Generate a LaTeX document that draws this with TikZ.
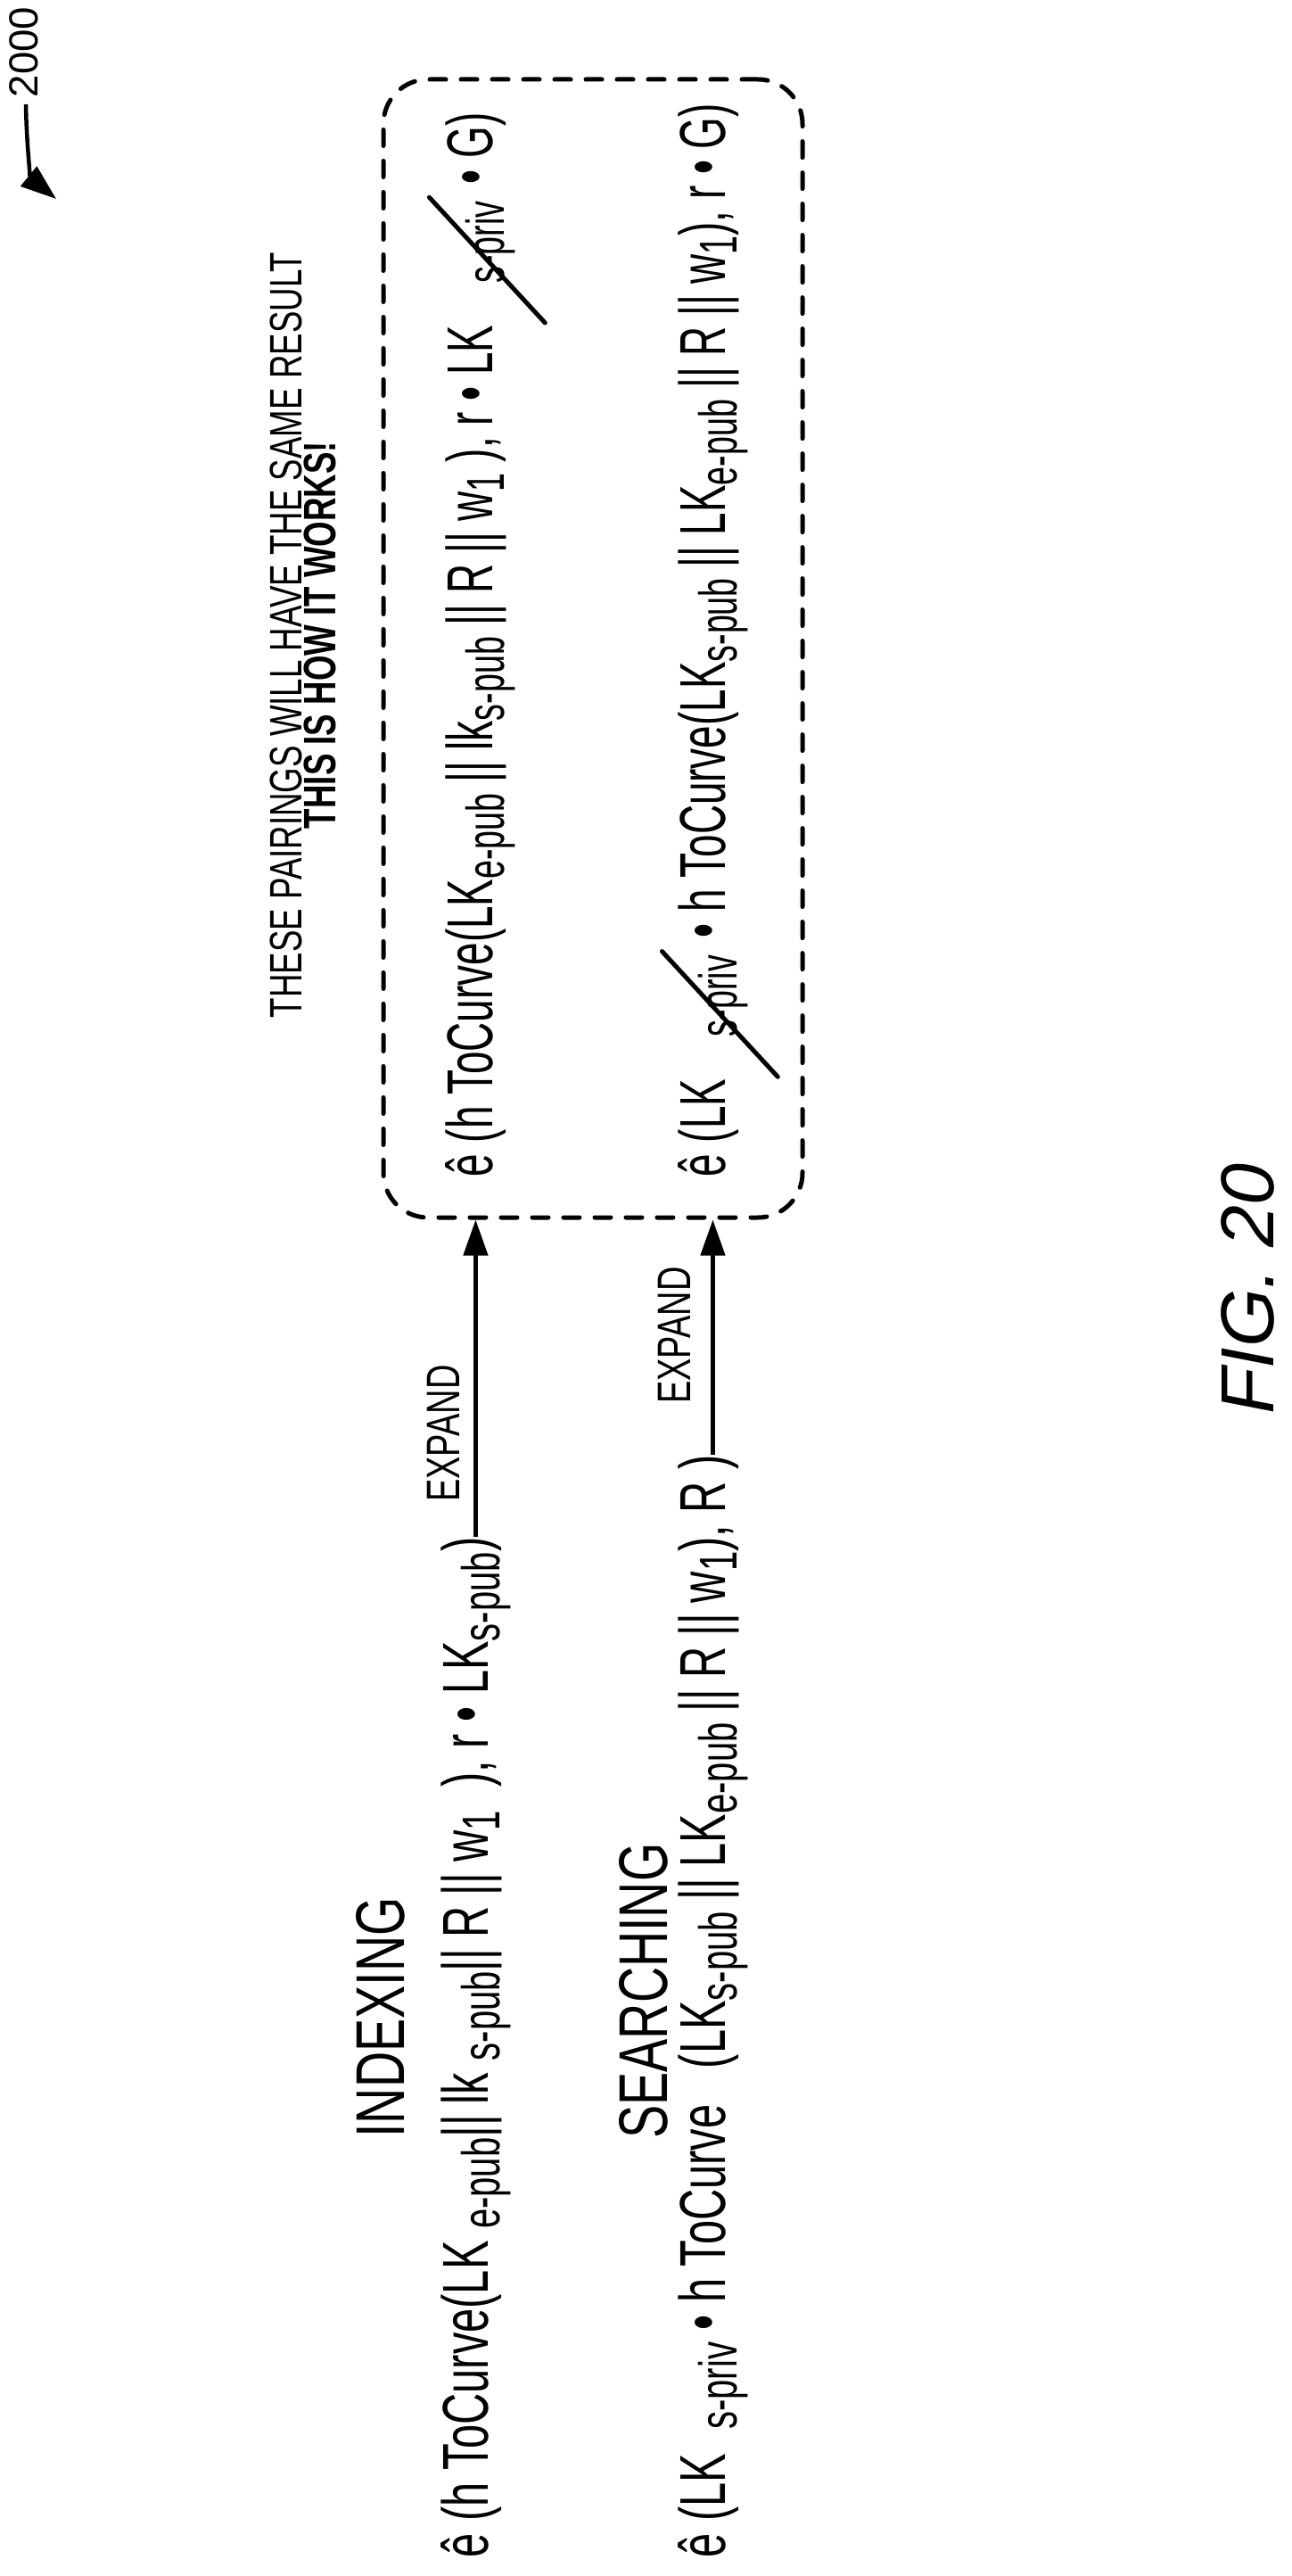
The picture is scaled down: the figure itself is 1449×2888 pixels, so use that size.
\documentclass[tikz,border=0pt]{standalone}
\usepackage{fontspec}
\setmainfont{Liberation Sans}
\newfontfamily\narrowf[FakeStretch=0.72]{Liberation Sans}
\newfontfamily\narrowm[FakeStretch=0.67]{Liberation Sans}
\newfontfamily\narrowp[FakeStretch=0.63]{Liberation Sans}
\usetikzlibrary{arrows.meta,calc}
\newcommand\lsub[1]{\raisebox{-0.35ex}{\fontsize{17pt}{18pt}\selectfont #1}}
\newcommand\strk[1]{\tikz[baseline=(s.base)]{\node[inner sep=0pt](s){#1};\draw[line width=0.5mm,line cap=round] ($(s.south west)+(-0.6em,-0.45em)$) -- ($(s.north east)+(0.05em,0.55em)$);}}
\begin{document}
\begin{tikzpicture}[x=0.1mm,y=-0.1mm,
  txt/.style={rotate=90,anchor=base west,inner sep=0pt,font=\narrowm\fontsize{20.7pt}{22pt}\selectfont},
  ptxt/.style={txt,font=\narrowp\fontsize{20.7pt}{22pt}\selectfont},
  head/.style={rotate=90,anchor=base,inner sep=0pt,font=\narrowf\fontsize{22pt}{24pt}\selectfont},
  lab/.style={rotate=90,anchor=base,inner sep=0pt,font=\narrowf\fontsize{15pt}{16pt}\selectfont},
  note/.style={rotate=90,anchor=base,inner sep=0pt,font=\narrowf\fontsize{14.5pt}{15pt}\selectfont},
  arr/.style={line width=0.45mm,-{Triangle[length=4mm,width=2.7mm]}},
  dbox/.style={draw,line width=0.5mm,dash pattern=on 1.8mm off 1.7mm,line cap=round,rounded corners=5mm,inner sep=0pt}]
\useasboundingbox (0,0) rectangle (1449,2888);
% ref label
\node[rotate=90,anchor=base west,inner sep=0pt,font=\fontsize{13pt}{14pt}\selectfont] (ref) at (43,110) {2000};
\coordinate (refend) at (63,223);
\draw[line width=0.45mm,-{Triangle[length=4mm,width=2.8mm]}] (29,117) .. controls (30,170) and (35,200) .. (refend);
% box
\node[dbox,minimum width=47mm,minimum height=127.6mm] (box) at (665,727) {};
% headings
\node[note] (n1) at (338,712) {THESE PAIRINGS WILL HAVE THE SAME RESULT};
\node[note,font=\narrowf\bfseries\fontsize{14.5pt}{15pt}\selectfont] (n2) at (376,712) {THIS IS HOW IT WORKS!};
% pairings
\node[ptxt] (p1) at (552,1320) {ê (h ToCurve(LK\lsub{e-pub}\,||\,lk\lsub{s-pub}\,||\,R\,||\,w\lsub{1}\ ), r • LK\strk{\lsub{s-priv}} • G)};
\node[ptxt] (p2) at (813,1320) {ê (LK\strk{\lsub{s-priv}} • h ToCurve(LK\lsub{s-pub}\,||\,LK\lsub{e-pub}\,||\,R\,||\,w\lsub{1}), r • G)};
% left side
\node[head] (indexing) at (453,2262) {INDEXING};
\node[head] (searching) at (748,2232) {SEARCHING};
\node[txt] (idx) at (547,2868) {ê (h ToCurve(LK\ \lsub{e-pub}||\,lk\ \lsub{s-pub}||\,R\,||\,w\lsub{1}\ \ ), r • LK\lsub{s-pub})};
\node[txt] (srch) at (813,2868) {ê (LK\ \ \lsub{s-priv} • h ToCurve\ \ \ (LK\lsub{s-pub}\,||\,LK\lsub{e-pub}\,||\,R\,||\,w\lsub{1}), R )};
\draw[arr] (idx.east) -- (idx.east |- box.south);
\draw[arr] (srch.east) -- (srch.east |- box.south);
\node[lab] (e1) at (515,1607) {EXPAND};
\node[lab] (e2) at (774,1497) {EXPAND};
% figure label
\node[rotate=90,anchor=base,inner sep=0pt,font=\itshape\fontsize{24pt}{26pt}\selectfont] (fig) at (1428,1445) {FIG. 20};
\end{tikzpicture}
\end{document}
